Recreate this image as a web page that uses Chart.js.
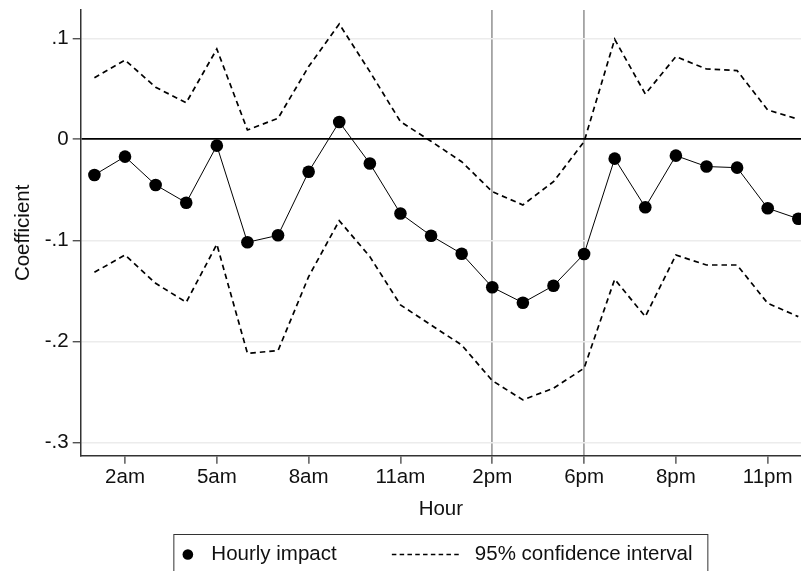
<!DOCTYPE html>
<html>
<head>
<meta charset="utf-8">
<title>Hourly impact</title>
<script src="https://cdn.jsdelivr.net/npm/chart.js@4"></script>
<style>
  body { margin: 0; background: #fff; }
  #wrap { width: 801px; height: 571px; position: relative; }
</style>
</head>
<body>
<div id="wrap"><canvas id="chart-1"></canvas></div>
<script>
// hours of the day (1am .. midnight)
var hours = ["1am", "2am", "3am", "4am", "5am", "6am", "7am", "8am", "9am", "10am", "11am", "12pm",
             "1pm", "2pm", "3pm", "4pm", "5pm", "6pm", "7pm", "8pm", "9pm", "10pm", "11pm", "12am"];

var coefficient = [-0.0353, -0.0172, -0.0452, -0.0628, -0.0063, -0.1020, -0.0951, -0.0321,
                   0.0171, -0.0240, -0.0735, -0.0955, -0.1133, -0.1465, -0.1618, -0.1450,
                   -0.1136, -0.0192, -0.0673, -0.0162, -0.0270, -0.0281, -0.0683, -0.0787];

var ciUpper = [0.0610, 0.0785, 0.0515, 0.0362, 0.0894, 0.0092, 0.0208, 0.0720,
               0.1141, 0.0670, 0.0175, -0.0020, -0.0222, -0.0519, -0.0650, -0.0420,
               -0.0024, 0.0990, 0.0449, 0.0818, 0.0696, 0.0680, 0.0290, 0.0198];

var ciLower = [-0.1317, -0.1146, -0.1426, -0.1614, -0.1040, -0.2119, -0.2093, -0.1360,
               -0.0806, -0.1162, -0.1640, -0.1839, -0.2037, -0.2390, -0.2580, -0.2465,
               -0.2267, -0.1386, -0.1756, -0.1146, -0.1245, -0.1245, -0.1624, -0.1756];

// axis ticks as printed on the original figure
var xTickPos = [1, 4, 7, 10, 13, 16, 19, 22];
var xTickLabels = ["2am", "5am", "8am", "11am", "2pm", "6pm", "8pm", "11pm"];
var yTicks = [-0.3, -0.2, -0.1, 0, 0.1];
var yTickLabels = ["-.3", "-.2", "-.1", "0", ".1"];
var markedTicks = [13, 16]; // vertical reference lines

var FONT = "'Liberation Sans', Arial, Helvetica, sans-serif";
var FS = 20.5;

function toPoints(values) {
  return values.map(function (v, i) {
    return { x: hours.indexOf(hours[i]), y: v };
  });
}

// legend box below the axis, drawn like the Stata one
const boxLegend = {
  id: "boxLegend",
  afterDraw: function (chart) {
    var ctx = chart.ctx;
    var area = chart.chartArea;
    var cx = (area.left + area.right) / 2;
    var left = cx - 267, right = cx + 267, top = 534.5;
    var midY = 554.5;
    ctx.save();
    ctx.strokeStyle = "#333";
    ctx.lineWidth = 1;
    ctx.strokeRect(left, top, right - left, 60);

    var ds = chart.data.datasets;
    // marker item
    ctx.fillStyle = "#000";
    ctx.beginPath();
    ctx.arc(left + 14, midY, 5.3, 0, Math.PI * 2);
    ctx.fill();
    ctx.font = FS + "px " + FONT;
    ctx.textBaseline = "middle";
    ctx.textAlign = "left";
    ctx.fillStyle = "#111";
    ctx.fillText(ds[0].label, left + 37.5, midY);

    // dashed item
    ctx.strokeStyle = "#000";
    ctx.lineWidth = 1.5;
    ctx.setLineDash([4.5, 3.3]);
    ctx.beginPath();
    ctx.moveTo(left + 218, midY);
    ctx.lineTo(left + 288, midY);
    ctx.stroke();
    ctx.setLineDash([]);
    ctx.fillText(ds[1].label, left + 301, midY);
    ctx.restore();
  }
};

const ctx1 = document.getElementById("chart-1").getContext("2d");
const myChart = new Chart(ctx1, {
  type: "line",
  data: {
    datasets: [
      {
        label: "Hourly impact",
        data: toPoints(coefficient),
        borderColor: "#000",
        borderWidth: 1,
        backgroundColor: "#000",
        pointRadius: 6.3,
        pointBorderWidth: 0,
        pointBackgroundColor: "#000",
        order: 0
      },
      {
        label: "95% confidence interval",
        data: toPoints(ciUpper),
        borderColor: "#000",
        borderWidth: 1.7,
        borderDash: [5.5, 4],
        pointRadius: 0,
        order: 1
      },
      {
        label: "95% confidence interval (lower)",
        data: toPoints(ciLower),
        borderColor: "#000",
        borderWidth: 1.7,
        borderDash: [5.5, 4],
        pointRadius: 0,
        order: 1
      }
    ]
  },
  options: {
    responsive: true,
    maintainAspectRatio: false,
    animation: false,
    layout: {
      autoPadding: false,
      padding: { top: 10, right: 0, left: 0, bottom: 40 }
    },
    plugins: {
      legend: { display: false },
      tooltip: { enabled: false }
    },
    scales: {
      x: {
        type: "linear",
        min: -0.448,
        max: 23.088,
        afterBuildTicks: function (scale) {
          scale.ticks = xTickPos.map(function (v) { return { value: v }; });
        },
        afterFit: function (scale) {
          scale.height = 75.3;
          scale.paddingLeft = 0;
          scale.paddingRight = 0;
        },
        ticks: {
          autoSkip: false,
          maxRotation: 0,
          padding: 1,
          color: "#111",
          font: { family: FONT, size: FS },
          callback: function (value) {
            var i = xTickPos.indexOf(value);
            return i >= 0 ? xTickLabels[i] : "";
          }
        },
        grid: {
          drawOnChartArea: true,
          tickLength: 8,
          tickColor: "#333",
          tickWidth: 1.2,
          color: function (c) {
            return c.tick && markedTicks.indexOf(c.tick.value) >= 0 ? "#a3a3a3" : "rgba(0,0,0,0)";
          },
          lineWidth: 1.8
        },
        border: { color: "#333", width: 1.5 },
        title: {
          display: true,
          text: "Hour",
          color: "#111",
          font: { family: FONT, size: FS },
          padding: { top: 0, bottom: 8.9 }
        }
      },
      y: {
        min: -0.3133,
        max: 0.128,
        afterBuildTicks: function (scale) {
          scale.ticks = yTicks.map(function (v) { return { value: v }; });
        },
        afterFit: function (scale) {
          scale.width = 80.7;
          scale.paddingTop = 0;
          scale.paddingBottom = 0;
        },
        ticks: {
          padding: 4,
          color: "#111",
          font: { family: FONT, size: FS },
          callback: function (value) {
            var i = yTicks.indexOf(value);
            return i >= 0 ? yTickLabels[i] : "";
          }
        },
        grid: {
          tickLength: 8,
          tickColor: "#333",
          tickWidth: 1.2,
          color: function (c) {
            return c.tick && c.tick.value === 0 ? "#000" : "#ececec";
          },
          lineWidth: function (c) {
            return c.tick && c.tick.value === 0 ? 1.8 : 1.5;
          }
        },
        border: { color: "#333", width: 1.5 },
        title: {
          display: true,
          text: "Coefficient",
          color: "#111",
          font: { family: FONT, size: FS },
          padding: { top: 11, bottom: 0 }
        }
      }
    }
  },
  plugins: [boxLegend]
});
</script>
</body>
</html>
